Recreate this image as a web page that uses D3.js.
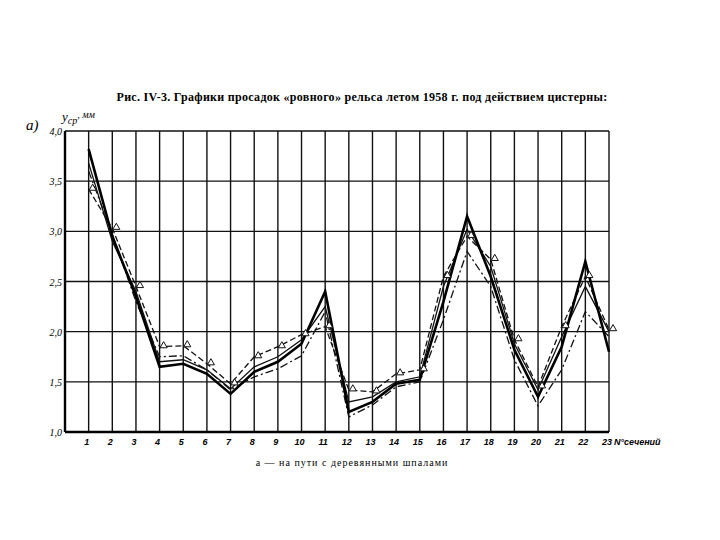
<!DOCTYPE html>
<html><head><meta charset="utf-8">
<script src="https://cdn.jsdelivr.net/npm/d3@7"></script>
<style>body{margin:0;background:#fff}svg{display:block}</style>
</head><body>
<script>
const sections = d3.range(1, 24);
const yTicks = [1.0, 1.5, 2.0, 2.5, 3.0, 3.5, 4.0];
const solidMain = [3.82, 2.95, 2.35, 1.65, 1.68, 1.58, 1.38, 1.6, 1.7, 1.88, 2.4, 1.2, 1.3, 1.48, 1.52, 2.3, 3.15, 2.55, 1.82, 1.35, 1.85, 2.7, 1.8];
const solidThin = [3.68, 2.9, 2.4, 1.7, 1.72, 1.62, 1.43, 1.65, 1.75, 1.92, 2.25, 1.3, 1.35, 1.5, 1.55, 2.45, 3.02, 2.65, 1.88, 1.42, 1.95, 2.45, 2.0];
const dashTri = [3.42, 3.03, 2.45, 1.85, 1.86, 1.68, 1.48, 1.75, 1.85, 1.97, 2.05, 1.42, 1.4, 1.58, 1.62, 2.55, 2.95, 2.72, 1.92, 1.45, 2.05, 2.55, 2.02];
const dashDot = [3.6, 2.97, 2.3, 1.75, 1.76, 1.62, 1.42, 1.55, 1.63, 1.76, 2.2, 1.15, 1.27, 1.45, 1.5, 2.12, 2.8, 2.45, 1.72, 1.26, 1.62, 2.2, 1.95];

const W = 720, H = 540;
const svg = d3.select("body").append("svg").attr("width", W).attr("height", H);
const x = d3.scaleLinear().domain([0, 23]).range([65, 609]);
const y = d3.scaleLinear().domain([1, 4]).range([432, 131]);

// title
svg.append("text").attr("x", 362).attr("y", 101).attr("text-anchor", "middle")
  .attr("font-family", "Liberation Serif, serif").attr("font-weight", "bold").attr("font-size", 12)
  .attr("letter-spacing", 0.3)
  .text("Рис. IV-3. Графики просадок «ровного» рельса летом 1958 г. под действием цистерны:");

// grid
const g = svg.append("g");
g.selectAll(".v").data(sections).enter().append("line")
  .attr("x1", d => x(d)).attr("x2", d => x(d)).attr("y1", y(4)).attr("y2", y(1))
  .attr("stroke", "#111").attr("stroke-width", 1.4);
g.selectAll(".h").data(yTicks).enter().append("line")
  .attr("x1", x(0)).attr("x2", x(23)).attr("y1", d => y(d)).attr("y2", d => y(d))
  .attr("stroke", "#111").attr("stroke-width", 1.3);
// axes
svg.append("line").attr("x1", x(0)).attr("x2", x(0)).attr("y1", y(4)).attr("y2", y(1)).attr("stroke", "#000").attr("stroke-width", 2.4);
svg.append("line").attr("x1", x(0)).attr("x2", x(23)).attr("y1", y(1)).attr("y2", y(1)).attr("stroke", "#000").attr("stroke-width", 2.4);

// y tick labels
svg.selectAll(".yt").data(yTicks).enter().append("text")
  .attr("x", 62).attr("y", d => y(d) + 4).attr("text-anchor", "end")
  .attr("font-family", "Liberation Serif, serif").attr("font-style", "italic").attr("font-size", 10)
  .text(d => d.toFixed(1).replace(".", ","));
// x tick labels
svg.selectAll(".xt").data(sections).enter().append("text")
  .attr("x", d => x(d) - 2).attr("y", 445).attr("text-anchor", "middle")
  .attr("font-family", "Liberation Sans, sans-serif").attr("font-style", "italic").attr("font-weight", "bold").attr("font-size", 9)
  .text(d => d);
svg.append("text").attr("x", 614).attr("y", 445)
  .attr("font-family", "Liberation Sans, sans-serif").attr("font-style", "italic").attr("font-weight", "bold").attr("font-size", 9)
  .text("N°сечений");

// y axis label
svg.append("text").attr("x", 26).attr("y", 130)
  .attr("font-family", "Liberation Serif, serif").attr("font-style", "italic").attr("font-size", 15)
  .text("a)");
const yl2 = svg.append("text").attr("x", 62).attr("y", 121)
  .attr("font-family", "Liberation Serif, serif").attr("font-style", "italic").attr("font-size", 13);
yl2.append("tspan").text("y");
yl2.append("tspan").attr("font-size", 10).attr("dy", 3).text("ср");
yl2.append("tspan").attr("font-size", 10).attr("dy", -6).text(", мм");

// caption
svg.append("text").attr("x", 352).attr("y", 466).attr("text-anchor", "middle")
  .attr("font-family", "Liberation Serif, serif").attr("font-size", 10).attr("letter-spacing", 1)
  .text("а — на пути с деревянными шпалами");

const line = d3.line().x((d, i) => x(sections[i])).y(d => y(d));
const plot = svg.append("g");
plot.append("path").attr("d", line(dashDot)).attr("fill", "none").attr("stroke", "#111").attr("stroke-width", 1.3).attr("stroke-dasharray", "8,3,2,3");
plot.append("path").attr("d", line(dashTri)).attr("fill", "none").attr("stroke", "#111").attr("stroke-width", 1.3).attr("stroke-dasharray", "6,3");
plot.append("path").attr("d", line(solidThin)).attr("fill", "none").attr("stroke", "#111").attr("stroke-width", 1.3);
plot.append("path").attr("d", line(solidMain)).attr("fill", "none").attr("stroke", "#000").attr("stroke-width", 2.6);

const tri = d3.symbol().type(d3.symbolTriangle).size(22);
plot.selectAll(".tri").data(dashTri).enter().append("path")
  .attr("d", tri).attr("transform", (d, i) => `translate(${x(sections[i]) + 4},${y(d) - 1})`)
  .attr("fill", "#fff").attr("stroke", "#111").attr("stroke-width", 1);
</script>
</body></html>
